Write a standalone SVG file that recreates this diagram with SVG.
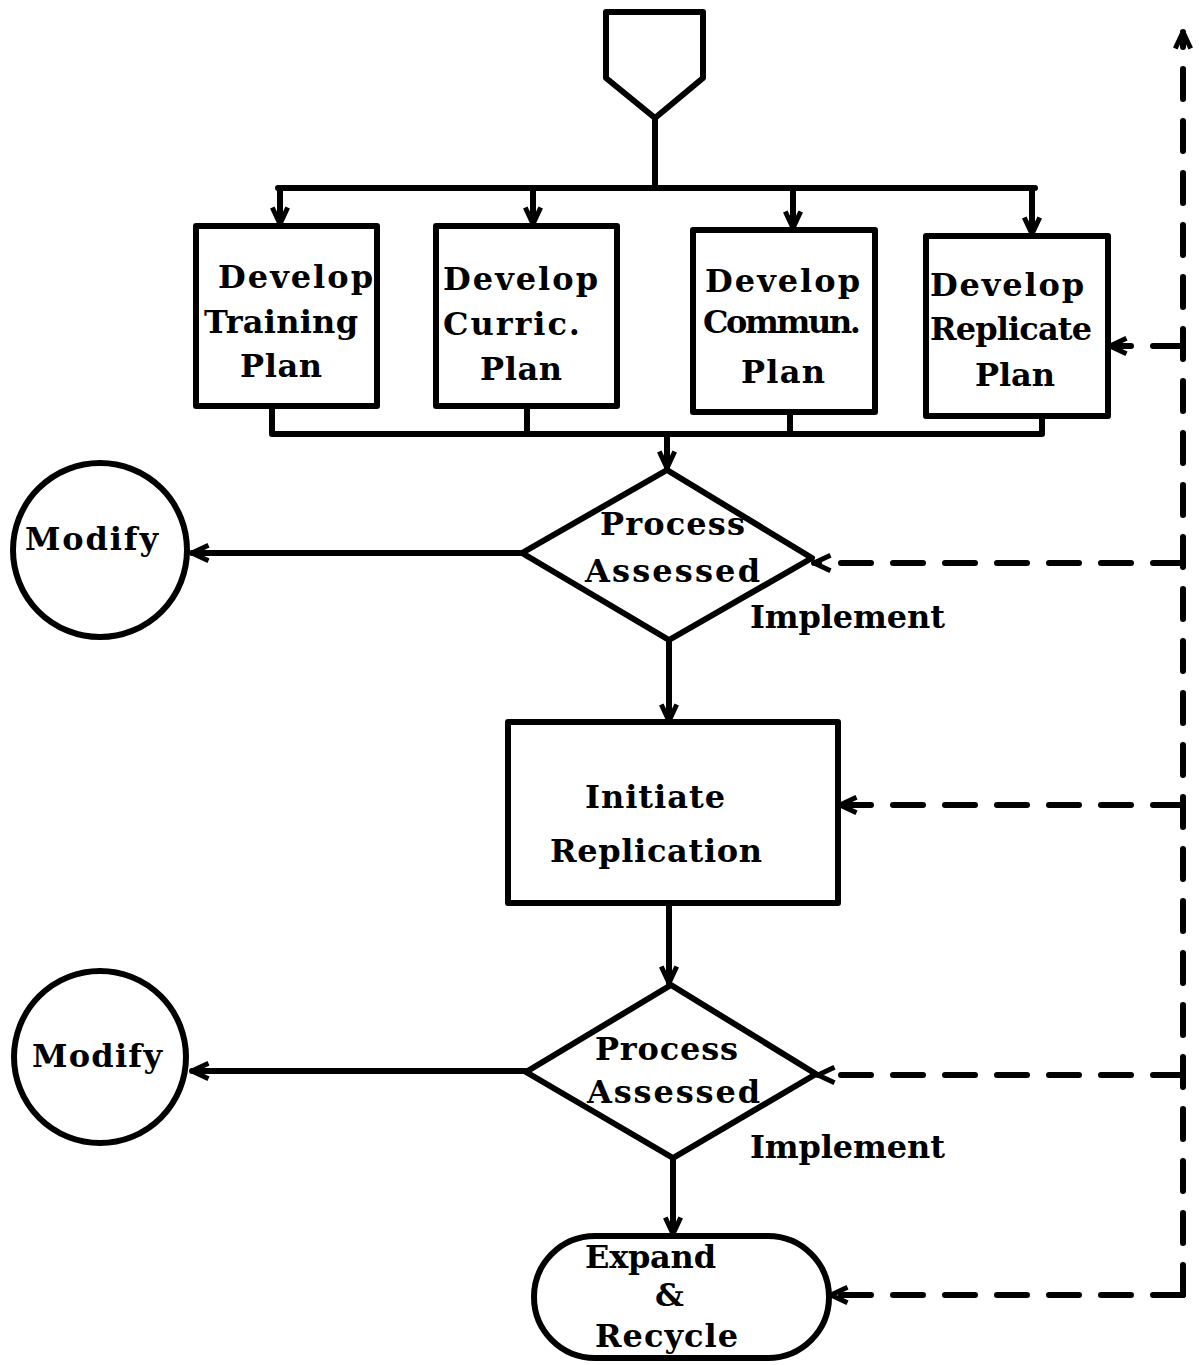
<svg xmlns="http://www.w3.org/2000/svg" width="1199" height="1365" viewBox="0 0 1199 1365">
<style>
.s{fill:none;stroke:#000;stroke-width:6;stroke-linejoin:round;stroke-linecap:round}
.d{fill:none;stroke:#000;stroke-width:6;stroke-dasharray:30 22;stroke-linecap:round}
.t{font-family:"DejaVu Serif","Liberation Serif",serif;font-weight:bold;font-size:32px;fill:#000}
</style>
<defs>
<marker id="a" viewBox="0 0 20 20" refX="18" refY="10" markerWidth="22" markerHeight="22" markerUnits="userSpaceOnUse" orient="auto">
<path d="M3,3 L18,10 L3,17" fill="none" stroke="#000" stroke-width="4.5" stroke-linejoin="round"/>
</marker>
</defs>
<rect width="1199" height="1365" fill="#fff"/>
<g id="connectors">
<path class="s" d="M655,118 V188 M278,188 H1035"/>
<path class="s" marker-end="url(#a)" d="M280,188 V224"/>
<path class="s" marker-end="url(#a)" d="M533,188 V224"/>
<path class="s" marker-end="url(#a)" d="M793,188 V228"/>
<path class="s" marker-end="url(#a)" d="M1032,188 V234"/>
<path class="s" d="M272,406 V434 M527,406 V434 M790,412 V434 M1042,416 V434 M272,434 H1042"/>
<path class="s" marker-end="url(#a)" d="M667,434 V468"/>
<path class="s" marker-end="url(#a)" d="M522,553 H192"/>
<path class="s" marker-end="url(#a)" d="M669,640 V721"/>
<path class="s" marker-end="url(#a)" d="M669,903 V983"/>
<path class="s" marker-end="url(#a)" d="M526,1071 H192"/>
<path class="s" marker-end="url(#a)" d="M673,1158 V1234"/>
<path class="d" marker-end="url(#a)" d="M1183,1295 V32"/>
<path class="d" marker-end="url(#a)" d="M1183,346 H1110"/>
<path class="d" marker-end="url(#a)" d="M1183,563 H814"/>
<path class="d" marker-end="url(#a)" d="M1183,805 H840"/>
<path class="d" marker-end="url(#a)" d="M1183,1075 H818"/>
<path class="d" marker-end="url(#a)" d="M1183,1295 H831"/>
</g>
<g id="start"><path class="s" d="M606,12 H703 V78 L655,118 L606,78 Z"/></g>
<g id="training"><rect class="s" x="196" y="226" width="181" height="180"/>
<text class="t" x="218" y="288" textLength="155">Develop</text>
<text class="t" x="204" y="333" textLength="154">Training</text>
<text class="t" x="240" y="377" textLength="82">Plan</text></g>
<g id="curric"><rect class="s" x="436" y="226" width="181" height="180"/>
<text class="t" x="443" y="290" textLength="155">Develop</text>
<text class="t" x="443" y="335" textLength="137">Curric.</text>
<text class="t" x="480" y="380" textLength="82">Plan</text></g>
<g id="commun"><rect class="s" x="693" y="230" width="182" height="182"/>
<text class="t" x="705" y="292" textLength="155">Develop</text>
<text class="t" x="703" y="333" textLength="158">Commun.</text>
<text class="t" x="741" y="383" textLength="84">Plan</text></g>
<g id="replicate"><rect class="s" x="926" y="236" width="182" height="180"/>
<text class="t" x="930" y="296" textLength="154">Develop</text>
<text class="t" x="930" y="340" textLength="162">Replicate</text>
<text class="t" x="975" y="386" textLength="80">Plan</text></g>
<g id="assess1"><path class="s" d="M667,470 L812,558 L669,640 L522,553 Z"/>
<text class="t" x="600" y="535" textLength="145">Process</text>
<text class="t" x="585" y="582" textLength="175">Assessed</text></g>
<text class="t" x="750" y="628" textLength="195">Implement</text>
<g id="modify1"><circle class="s" cx="100" cy="550" r="87"/>
<text class="t" x="25" y="550" textLength="133">Modify</text></g>
<g id="initiate"><rect class="s" x="508" y="722" width="330" height="181"/>
<text class="t" x="585" y="808" textLength="140">Initiate</text>
<text class="t" x="550" y="862" textLength="212">Replication</text></g>
<g id="assess2"><path class="s" d="M671,985 L816,1074 L673,1158 L526,1072 Z"/>
<text class="t" x="595" y="1060" textLength="143">Process</text>
<text class="t" x="587" y="1103" textLength="173">Assessed</text></g>
<text class="t" x="750" y="1158" textLength="195">Implement</text>
<g id="modify2"><circle class="s" cx="100" cy="1057" r="86"/>
<text class="t" x="32" y="1067" textLength="130">Modify</text></g>
<g id="expand"><rect class="s" x="534" y="1236" width="295" height="122" rx="61"/>
<text class="t" x="585" y="1268" textLength="131">Expand</text>
<text class="t" x="655" y="1306">&amp;</text>
<text class="t" x="595" y="1347" textLength="143">Recycle</text></g>
</svg>
